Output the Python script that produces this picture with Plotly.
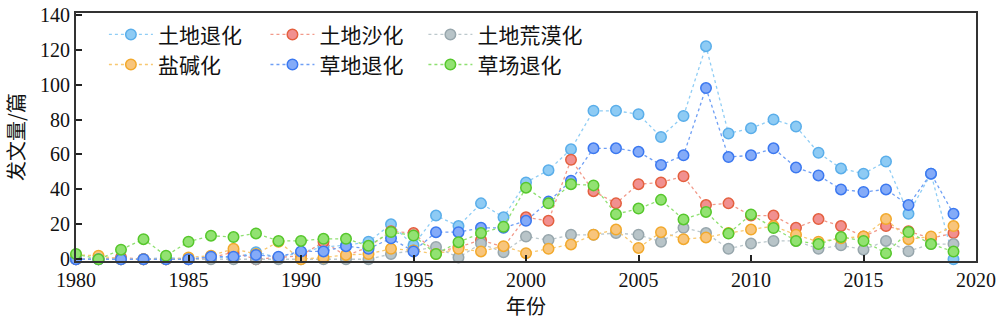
import plotly.graph_objects as go

years = list(range(1980, 2020))

# 土地退化
land_degradation = [0, 0, 0, 0, 1, 0, 1, 1, 4, 1, 4, 7, 8, 10, 20, 8, 25, 19, 32, 24,
                    44, 51, 63, 85, 85, 83, 70, 82, 122, 72, 75, 80, 76, 61, 52, 49, 56, 26, 49, 0]
# 土地沙化
land_sandification = [0, 0, 1, 0, 0, 0, 1, 4, 0, 1, 2, 10, 2, 7, 16, 15, 4, 7, 11, 7,
                      24, 22, 57, 39, 32, 43, 44, 47.5, 31, 32, 25, 25, 18, 23, 19, 13, 19, 16, 12, 15]
# 土地荒漠化
land_desertification = [0, 0, 0, 0, 0, 0, 0, 0, 0, 0, 0, 0, 0, 0, 3, 5, 7, 1, 9, 4,
                        13, 11, 14, 14, 15, 14, 10, 18, 15, 6, 9, 10.5, 10.5, 6, 8, 5.5, 10.5, 4.6, 8.7, 8.7]
# 盐碱化
salinization = [2.5, 2, 0, 0, 0, 1, 2, 6, 3, 10, 0, 1, 2.5, 3, 6, 5, 3, 6, 4.5, 7.5,
                3.5, 6, 8.5, 14, 17, 6.5, 15.5, 11.5, 12.5, 15, 17, 19, 14, 10, 12, 13, 23, 11.5, 13, 19]
# 草地退化
grassland_degradation = [0, 0, 0, 0, 0, 0, 1.5, 1.5, 2.5, 1.5, 4.5, 4.5, 7.5, 6, 12, 4.5, 15.5, 15.5, 18, 18,
                         22, 33, 45, 63.5, 63.5, 61.5, 54, 59.5, 98, 58.5, 59.5, 63.5, 52.5, 48, 40, 38.5, 40, 31, 49, 26]
# 草场退化
pasture_degradation = [3, 0, 5.5, 11.5, 2, 10, 13.5, 12.7, 14.8, 10.5, 10.5, 11.7, 11.7, 7.7, 15.6, 13.6, 3, 9.8, 15, 18.6,
                       41, 32, 43, 42.3, 25.8, 29, 34, 22.8, 27.1, 14.7, 25.6, 17.9, 10.5, 8.7, 12.7, 10.5, 3.5, 15.6, 8.7, 4.4]

series_names = ["土地退化", "土地沙化", "土地荒漠化", "盐碱化", "草地退化", "草场退化"]
series_values = [land_degradation, land_sandification, land_desertification,
                 salinization, grassland_degradation, pasture_degradation]
# (line colour, marker fill, marker edge)
series_colors = [
    ("#8fcdf5", "#8ecbf4", "#5aaeea"),
    ("#f29a8a", "#f19090", "#e4603f"),
    ("#bcc8cc", "#b8c4c8", "#97a6ac"),
    ("#f8c870", "#f8c57c", "#f2a92c"),
    ("#6f9ff5", "#84abf8", "#3b78f0"),
    ("#8ee070", "#92e272", "#56c72c"),
]

# one legend per entry, laid out as a 3 x 2 grid (paper coordinates)
legend_x = [0.031, 0.2105, 0.386, 0.031, 0.2105, 0.386]
legend_y = [0.912, 0.912, 0.912, 0.791, 0.791, 0.791]

tick_font = dict(family="Liberation Serif, Times New Roman, serif", size=20, color="#111")
cjk_font = dict(family="Noto Sans CJK SC", size=20, color="#111")
legend_font = dict(family="Noto Sans CJK SC", size=21, color="#111")

fig = go.Figure()
layout_legends = {}
for i, (name, vals, (lc, fc, ec)) in enumerate(zip(series_names, series_values, series_colors)):
    lg = "legend" if i == 0 else f"legend{i + 1}"
    fig.add_trace(go.Scatter(
        x=years, y=vals, name=name, mode="lines+markers",
        line=dict(color=lc, width=1.3, dash="dot"),
        marker=dict(size=10.5, color=fc, line=dict(color=ec, width=1.5)),
        cliponaxis=False, legend=lg,
    ))
    layout_legends[lg] = dict(
        x=legend_x[i], y=legend_y[i], xanchor="left", yanchor="middle",
        orientation="h", font=legend_font, bgcolor="rgba(0,0,0,0)",
        itemwidth=44, borderwidth=0,
    )

fig.update_layout(
    width=1000, height=322,
    margin=dict(l=76, r=17, t=4, b=61),
    paper_bgcolor="white", plot_bgcolor="white",
    showlegend=True,
    xaxis=dict(
        range=[1980, 2020], tickvals=[1980, 1985, 1990, 1995, 2000, 2005, 2010, 2015, 2020],
        ticks="inside", ticklen=6, tickwidth=2, tickcolor="#222",
        showline=True, linecolor="#333", linewidth=2, mirror=True,
        showgrid=False, zeroline=False, tickfont=tick_font, ticklabeloverflow="allow",
        title=dict(text="年份", font=cjk_font, standoff=4),
    ),
    yaxis=dict(
        range=[-1, 141], tickvals=[0, 20, 40, 60, 80, 100, 120, 140],
        ticks="inside", ticklen=6, tickwidth=2, tickcolor="#222",
        showline=True, linecolor="#333", linewidth=2, mirror=True,
        showgrid=False, zeroline=False, tickfont=tick_font, ticklabeloverflow="allow",
        title=dict(text="发文量/篇", font=cjk_font, standoff=10),
    ),
    **layout_legends,
)

fig.write_html("out.html")
